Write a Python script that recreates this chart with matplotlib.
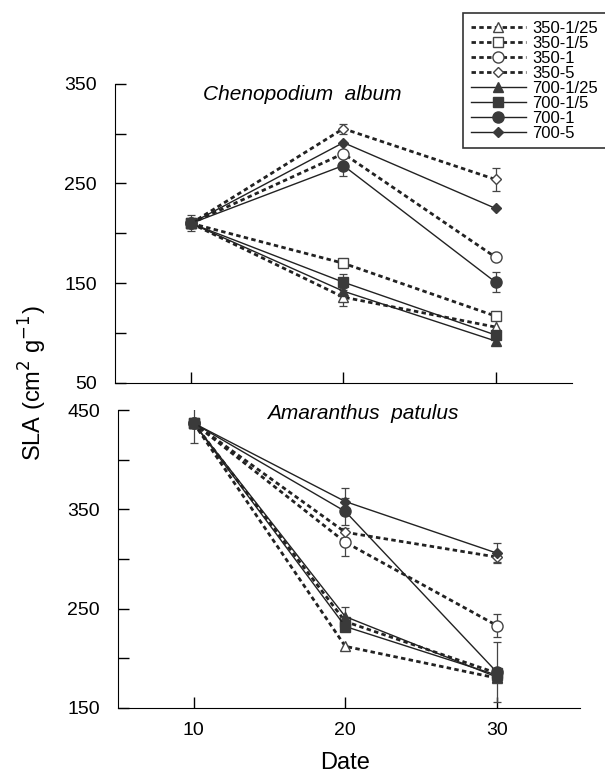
import numpy as np
import matplotlib.pyplot as plt

plt.rcParams['font.family'] = ['Liberation Sans', 'DejaVu Sans']

# Daten
dates = [10, 20, 30]
series = ['350-1/25', '350-1/5', '350-1', '350-5',
          '700-1/25', '700-1/5', '700-1', '700-5']

# Chenopodium album
cheno = {
    '350-1/25': [210, 136, 106],
    '350-1/5': [210, 170, 117],
    '350-1': [210, 280, 176],
    '350-5': [210, 305, 254],
    '700-1/25': [210, 142, 92],
    '700-1/5': [210, 151, 98],
    '700-1': [210, 268, 151],
    '700-5': [210, 291, 225],
}
cheno_err = {
    '350-1/25': [0, 9, 8],
    '350-1/5': [0, 0, 0],
    '350-1': [0, 0, 0],
    '350-5': [0, 5, 12],
    '700-1/25': [0, 0, 0],
    '700-1/5': [8, 8, 0],
    '700-1': [0, 10, 10],
    '700-5': [0, 0, 0],
}

# Amaranthus patulus
amar = {
    '350-1/25': [437, 212, 180],
    '350-1/5': [437, 237, 185],
    '350-1': [437, 317, 233],
    '350-5': [437, 327, 302],
    '700-1/25': [437, 242, 181],
    '700-1/5': [437, 232, 183],
    '700-1': [437, 348, 186],
    '700-5': [437, 358, 306],
}
amar_err = {
    '350-1/25': [0, 0, 0],
    '350-1/5': [0, 0, 0],
    '350-1': [0, 14, 12],
    '350-5': [0, 0, 5],
    '700-1/25': [0, 10, 0],
    '700-1/5': [20, 0, 0],
    '700-1': [0, 14, 30],
    '700-5': [0, 14, 10],
}

# Stile
dark = '#3a3a3a'
dotted = (0, (1.6, 1.2))
styles = {
    '350-1/25': dict(ls=dotted, lw=2.0, marker='^', ms=7, mfc='white', mec='#444'),
    '350-1/5': dict(ls=dotted, lw=2.0, marker='s', ms=7, mfc='white', mec='#444'),
    '350-1': dict(ls=dotted, lw=2.0, marker='o', ms=8, mfc='white', mec='#444'),
    '350-5': dict(ls=dotted, lw=2.0, marker='D', ms=5, mfc='white', mec='#444'),
    '700-1/25': dict(ls='-', lw=1.0, marker='^', ms=7, mfc=dark, mec=dark),
    '700-1/5': dict(ls='-', lw=1.0, marker='s', ms=7, mfc=dark, mec=dark),
    '700-1': dict(ls='-', lw=1.0, marker='o', ms=8, mfc=dark, mec=dark),
    '700-5': dict(ls='-', lw=1.0, marker='D', ms=5, mfc=dark, mec=dark),
}

fig = plt.figure(figsize=(6.05, 7.83), dpi=100)
ax1 = fig.add_axes([0.190, 0.511, 0.755, 0.382])
ax2 = fig.add_axes([0.195, 0.096, 0.764, 0.380])


def draw(ax, data, err):
    handles = []
    for name in series:
        st = styles[name]
        e = np.array(err[name], dtype=float)
        ax.errorbar(dates, data[name], yerr=np.where(e > 0, e, np.nan),
                    fmt='none', ecolor='#444', elinewidth=0.9, capsize=3, capthick=0.9, zorder=2)
        h, = ax.plot(dates, data[name], color='#222', zorder=3, label=name, **st)
        handles.append(h)
    for s in ['top', 'right']:
        ax.spines[s].set_visible(False)
    ax.tick_params(direction='in', length=8, width=1, labelsize=14, pad=13)
    ax.tick_params(which='minor', direction='in', length=8, width=1)
    return handles


handles = draw(ax1, cheno, cheno_err)
draw(ax2, amar, amar_err)

ax1.set_xlim(5, 35)
ax1.set_ylim(50, 350)
ax1.set_yticks([50, 150, 250, 350])
ax1.set_yticks([100, 200, 300], minor=True)
ax1.set_xticks([10, 20, 30])
ax1.set_xticklabels([])
ax1.text(0.41, 0.963, 'Chenopodium  album', transform=ax1.transAxes, ha='center',
         va='center', fontsize=15, style='italic')

ax2.set_xlim(5, 35.5)
ax2.set_ylim(150, 450)
ax2.set_yticks([150, 250, 350, 450])
ax2.set_yticks([200, 300, 400], minor=True)
ax2.set_xticks([10, 20, 30])
ax2.tick_params(axis='x', pad=10)
ax2.text(0.53, 0.99, 'Amaranthus  patulus', transform=ax2.transAxes, ha='center',
         va='center', fontsize=15, style='italic')

fig.text(0.57, 1 - 763 / 783, 'Date', ha='center', va='center', fontsize=17)
fig.text(0.055, 0.51, 'SLA (cm$^2$ g$^{-1}$)', rotation=90, ha='center', va='center',
         fontsize=17)

leg = fig.legend(handles=handles, loc='upper left', bbox_to_anchor=(0.752, 0.994),
                 fontsize=12, handlelength=3.3, handletextpad=0.4, labelspacing=0.0,
                 borderpad=0.45, frameon=True, fancybox=False, edgecolor='black')
leg.get_frame().set_linewidth(1.2)

plt.savefig('out.png', dpi=100)
